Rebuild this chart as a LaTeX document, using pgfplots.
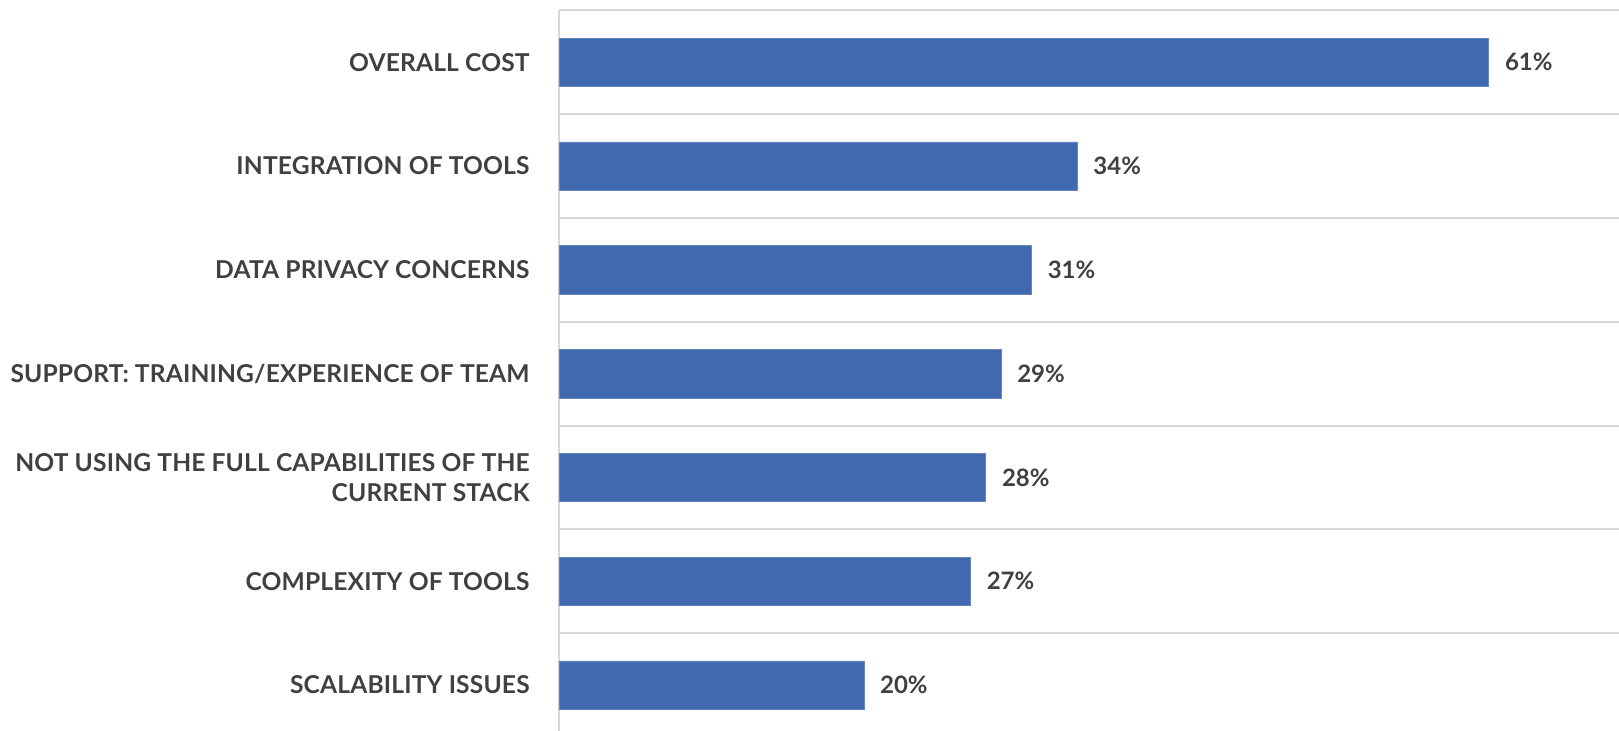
\documentclass[border=0pt]{standalone}
\usepackage{pgfplots}
\pgfplotsset{compat=1.18}
\usepackage{fontspec}
\setmainfont{Lato}
\definecolor{barblue}{HTML}{4169B0}
\definecolor{txt}{HTML}{404040}
\definecolor{gridgray}{HTML}{D9D9D9}
\begin{document}
\begin{tikzpicture}
\begin{axis}[
  name=ax,
  scale only axis,
  width=530pt, height=363.3pt,
  xbar, bar width=24.2pt,
  xmin=0, xmax=69.55,
  ymin=-0.5, ymax=6.5,
  y dir=reverse,
  axis x line=none,
  axis y line=left,
  y axis line style={-, draw=gridgray, line width=1pt},
  ytick={0,...,6},
  yticklabels={OVERALL COST, INTEGRATION OF TOOLS, DATA PRIVACY CONCERNS, SUPPORT: TRAINING/EXPERIENCE OF TEAM, {NOT USING THE FULL CAPABILITIES OF THE\\CURRENT STACK}, COMPLEXITY OF TOOLS, SCALABILITY ISSUES},
  yticklabel style={font=\fontsize{12.3}{15}\selectfont\bfseries\addfontfeatures{LetterSpace=0.6}, text=txt, align=right, anchor=east, inner sep=0pt, xshift=-14.5pt},
  major tick length=0pt,
  minor ytick={-0.5,0.5,...,5.5},
  yminorgrids,
  minor tick length=0pt,
  minor grid style={draw=gridgray, line width=1pt},
  clip=false,
  /pgf/number format/assume math mode=true,
  nodes near coords={\pgfmathprintnumber{\pgfplotspointmeta}\%},
  nodes near coords style={font=\fontsize{12}{14}\selectfont\bfseries, text=txt, anchor=west, inner sep=0pt, xshift=8pt},
  point meta=x,
]
\addplot[fill=barblue, draw=barblue!80!white, line width=0.3pt] coordinates {(61,0) (34,1) (31,2) (29,3) (28,4) (27,5) (20,6)};
\end{axis}
\pgfresetboundingbox
\path[use as bounding box] ([xshift=-279.5pt,yshift=5.15pt]ax.north west) rectangle ([yshift=-359.85pt]ax.north east);
\end{tikzpicture}
\end{document}
